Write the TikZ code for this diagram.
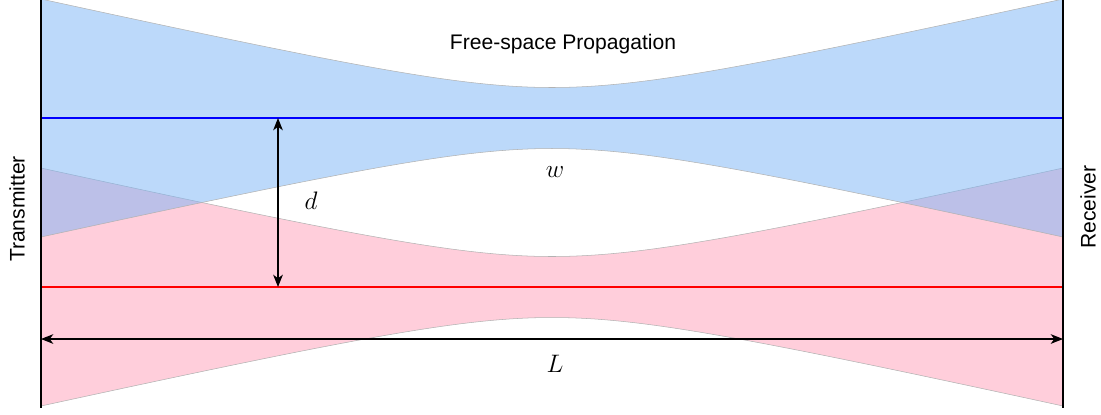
\documentclass[tikz,border=0pt]{standalone}
\usepackage{fontspec}
\setsansfont{Liberation Sans}
\usetikzlibrary{arrows.meta}
\definecolor{bluebeam}{HTML}{7AB4F5}
\definecolor{redbeam}{HTML}{FFCEDB}

\begin{document}
\begin{tikzpicture}[x=0.02cm, y=-0.02cm, every node/.style={font=\Large},
  beam/.style={draw=gray!60, line width=0.3pt},
  dim/.style={{Stealth[length=7pt, width=5.5pt, inset=2pt]}-{Stealth[length=7pt, width=5.5pt, inset=2pt]}, line width=0.7pt},
  label/.style={font=\large\sffamily},
  declare function={bw(\z)=30.5*sqrt(1+(\z/135.5)^2);}]
  \useasboundingbox (0,0) rectangle (1101,414);
  % Gaussian beams, red below, blue on top
  \path[beam, fill=redbeam]
    plot[domain=-511:511, samples=121] ({552+\x}, {287-bw(\x)})
    -- plot[domain=511:-511, samples=121] ({552+\x}, {287+bw(\x)}) -- cycle;
  \path[beam, fill=bluebeam, fill opacity=0.5]
    plot[domain=-511:511, samples=121] ({552+\x}, {118-bw(\x)})
    -- plot[domain=511:-511, samples=121] ({552+\x}, {118+bw(\x)}) -- cycle;

  % Beam axes
  \coordinate (bluein) at (41,118);
  \coordinate (blueout) at (1063,118);
  \coordinate (redin) at (41,287);
  \coordinate (redout) at (1063,287);
  \draw[blue, line width=1.1pt] (bluein) -- (blueout);
  \draw[red, line width=1.1pt] (redin) -- (redout);

  % Transmitter and receiver planes
  \coordinate (txtop) at (41,0);
  \coordinate (txbot) at (41,408);
  \coordinate (rxtop) at (1063,0);
  \coordinate (rxbot) at (1063,408);
  \draw[line width=1.2pt] (txtop) -- (txbot);
  \draw[line width=1.2pt] (rxtop) -- (rxbot);
  \node[label, rotate=90] (tx) at (17,209) {Transmitter};
  \node[label, rotate=90] (rx) at (1088,207) {Receiver};

  % Dimensions
  \coordinate (dtop) at (278,118);
  \coordinate (dbot) at (278,287);
  \draw[dim] (dtop) -- (dbot);
  \coordinate (Lleft) at (41,339);
  \coordinate (Lright) at (1063,339);
  \draw[dim, line width=0.6pt] (Lleft) -- (Lright);

  \node[label] (title) at (563,44) {Free-space Propagation};
  \node (wlab) at (555,172) {$w$};
  \node (dlab) at (311,201) {$d$};
  \node (Llab) at (555,364) {$L$};
\end{tikzpicture}
\end{document}
